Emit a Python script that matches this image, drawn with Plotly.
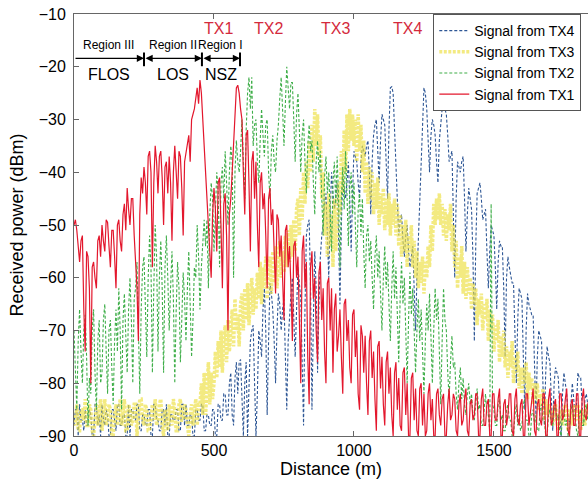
import numpy as np
import plotly.graph_objects as go

STEP = 5  # distance sampling step (m)

tx1 = [
    -50, -49, -51, -55, -57, -53, -52, -66, -74, -55,
    -56, -62, -80, -58, -57, -60, -62, -53, -52, -56,
    -50, -53, -55, -49, -49.5, -54, -58, -51, -51, -56,
    -62, -50, -49, -53, -55, -48, -46, -51, -43, -47,
    -50, -45, -45, -52, -56, -62, -72, -48, -41, -44,
    -39, -42, -48, -37, -36, -40, -58, -42, -35, -38,
    -44, -37, -36, -41, -50, -39, -38, -44, -37, -42,
    -53, -40, -35, -39, -45, -36, -37, -43, -52, -38,
    -36, -34, -33, -38, -30, -29, -28, -26, -24, -27,
    -22.5, -25, -30, -36, -42, -47, -50, -55, -60, -48,
    -43, -47, -55, -42, -41, -50, -62, -46, -44, -52,
    -70, -48, -45, -40, -35, -30, -24, -23.5, -25, -28,
    -30, -40, -48, -33, -32, -42, -55, -38, -36, -45,
    -38, -50, -58, -42, -40, -47, -44, -52, -62, -45,
    -43, -50, -47, -55, -63, -48, -49, -56, -52, -60,
    -68, -51, -50, -58, -54, -62, -72, -54, -53, -60,
    -56, -68, -80, -55, -52, -62, -57, -75, -84, -58,
    -55, -64, -60, -70, -76, -59, -57, -68, -62, -74,
    -80, -61, -60, -70, -62, -78, -66, -63, -74, -71,
    -66, -75, -82, -65, -64, -72, -68, -77, -80, -67,
    -66, -75, -70, -82, -85, -69, -71, -78, -71, -80,
    -86, -72, -70, -79, -74, -83, -89, -73, -72, -81,
    -75, -84, -88, -76, -74, -82, -77, -86, -90, -78,
    -76, -85, -79, -88, -89, -78, -77, -86, -80, -90,
    -90, -79, -78, -87, -81, -89, -90, -81, -80, -88,
    -82, -90, -89, -82, -80, -87, -83, -90, -90, -82,
    -81, -86, -88, -83, -82, -90, -90, -84, -81, -87,
    -86, -82, -83, -89, -90, -84, -82, -88, -87, -83,
    -81, -89, -90, -84, -83, -87, -86, -82, -82, -90,
    -90, -83, -81, -88, -88, -84, -83, -90, -90, -82,
    -82, -87, -87, -83, -81, -90, -90, -84, -83, -88,
    -86, -82, -82, -89, -90, -83, -81, -87, -88, -84,
    -83, -90, -90, -82, -82, -88, -86, -83, -81, -89,
    -90, -84, -83, -87, -88, -82, -82, -90, -90, -83,
    -81, -88, -87, -84, -83, -90, -90, -82, -82, -87,
    -86, -83, -81, -89, -90, -84, -83, -88, -88, -82,
    -82, -90, -90, -83, -81, -86, -87, -84, -83,
]

tx2 = [
    -70, -78, -85, -72, -66, -74, -80, -70, -67, -75,
    -88, -79, -82, -70, -66, -78, -85, -72, -68, -80,
    -78, -68, -65, -74, -82, -70, -68, -77, -84, -72,
    -66, -74, -62, -70, -85, -68, -63, -71, -78, -66,
    -60, -68, -80, -64, -62, -57, -70, -82, -66, -58,
    -56, -64, -75, -60, -52, -58, -78, -62, -50, -56,
    -74, -60, -53, -62, -78, -58, -52, -60, -70, -62,
    -55, -64, -80, -66, -57, -62, -76, -68, -59, -64,
    -72, -62, -55, -65, -75, -68, -58, -60, -50, -56,
    -66, -58, -52, -49, -54, -49, -62, -48, -42, -45,
    -55, -46, -40, -44, -58, -42, -39, -45, -36, -42,
    -50, -40, -35, -38, -60, -40, -34, -38, -40, -36,
    -30, -38, -45, -32, -25, -22, -28, -22, -35, -31,
    -30, -38, -42, -34, -28, -33, -37, -31, -30, -40,
    -45, -36, -33, -38, -40, -34, -31, -26, -22, -28,
    -35, -27, -20, -24, -28, -23, -23, -30, -38, -29,
    -25, -32, -40, -33, -30, -38, -44, -35, -31, -36,
    -34, -42, -48, -38, -34, -40, -36, -45, -52, -41,
    -37, -44, -40, -48, -55, -42, -38, -46, -37, -45,
    -58, -45, -39, -47, -36, -44, -54, -43, -40, -48,
    -42, -50, -58, -47, -44, -52, -45, -55, -62, -52,
    -50, -57, -53, -60, -66, -56, -52, -60, -55, -63,
    -70, -60, -54, -62, -57, -65, -72, -62, -55, -64,
    -58, -67, -76, -64, -57, -65, -60, -70, -80, -68,
    -59, -67, -62, -70, -78, -70, -64, -72, -66, -74,
    -82, -72, -65, -70, -63, -71, -80, -70, -62, -68,
    -64, -74, -84, -72, -62, -68, -70, -78, -83, -76,
    -71, -77, -76, -82, -85, -80, -77, -83, -79, -84,
    -86, -82, -80, -84, -82, -86, -87, -84, -81, -85,
    -84, -88, -88, -85, -82, -86, -86, -89, -46, -84,
    -85, -88, -88, -84, -83, -87, -86, -89, -89, -85,
    -84, -87, -87, -90, -90, -86, -84, -88, -86, -89,
    -88, -84, -83, -87, -87, -90, -90, -86, -85, -88,
    -86, -89, -89, -85, -84, -87, -87, -90, -90, -86,
    -85, -88, -88, -85, -84, -87, -86, -89, -90, -86,
    -85, -88, -87, -90, -89, -85, -84, -87, -86, -89,
    -90, -86, -85, -88, -88, -85, -84, -87, -87,
]

tx3 = [
    -86, -88, -84, -89, -89, -85, -85, -87, -83, -88,
    -88, -84, -85, -89, -90, -86, -84, -88, -86, -83,
    -89, -85, -83, -88, -87, -84, -85, -90, -90, -86,
    -84, -88, -86, -83, -88, -85, -83, -89, -89, -84,
    -85, -88, -87, -84, -84, -90, -86, -83, -83, -87,
    -88, -84, -85, -89, -89, -86, -84, -87, -83, -88,
    -87, -84, -83, -88, -90, -85, -86, -89, -84, -87,
    -88, -83, -85, -89, -89, -84, -83, -87, -87, -84,
    -85, -88, -90, -86, -84, -88, -86, -83, -88, -84,
    -84, -80, -86, -78, -86, -82, -76, -84, -78, -83,
    -80, -74, -79, -72, -77, -70, -78, -72, -69, -76,
    -68, -74, -70, -66, -73, -64, -70, -67, -73, -65,
    -63, -70, -62, -68, -61, -69, -64, -60, -67, -62,
    -66, -59, -64, -57, -65, -58, -62, -56, -64, -58,
    -56, -63, -55, -61, -54, -62, -57, -53, -60, -55,
    -59, -52, -58, -51, -57, -50, -56, -49, -55, -47,
    -45, -52, -43, -49, -40, -46, -38, -43, -34, -40,
    -31, -38, -28, -35, -29, -37, -33, -45, -40, -52,
    -46, -56, -44, -54, -48, -58, -45, -55, -50, -42,
    -48, -36, -44, -32, -40, -29, -36, -28, -34, -29,
    -35, -30, -38, -29, -36, -31, -40, -34, -44, -38,
    -46, -39, -45, -40, -48, -42, -47, -41, -50, -44,
    -48, -43, -51, -45, -50, -44, -52, -46, -50, -45,
    -52, -46, -54, -48, -56, -50, -55, -49, -58, -52,
    -55, -50, -58, -53, -60, -55, -62, -57, -61, -56,
    -63, -57, -60, -54, -58, -50, -55, -46, -50, -45,
    -49, -44, -50, -46, -52, -47, -53, -48, -51, -46,
    -55, -50, -58, -53, -62, -56, -60, -54, -63, -57,
    -64, -58, -63, -60, -66, -61, -65, -62, -69, -64,
    -67, -63, -70, -65, -68, -64, -72, -66, -70, -67,
    -74, -69, -72, -68, -76, -71, -75, -70, -77, -73,
    -79, -74, -77, -72, -80, -75, -78, -74, -81, -77,
    -82, -77, -80, -76, -83, -78, -81, -79, -84, -80,
    -83, -80, -85, -82, -84, -81, -87, -83, -86, -84,
    -85, -87, -88, -85, -84, -87, -89, -86, -85, -88,
    -86, -84, -87, -89, -85, -86, -88, -84, -85, -87,
    -84, -86, -89, -85, -87, -88, -84, -86, -86,
]

tx4 = [
    -88, -85, -85, -90, -84, -87, -87, -89, -85, -88,
    -88, -85, -86, -90, -90, -84, -84, -88, -86, -90,
    -84, -87, -88, -85, -86, -90, -90, -85, -85, -87,
    -89, -84, -84, -88, -88, -86, -86, -90, -90, -84,
    -90, -85, -85, -87, -87, -84, -84, -89, -89, -86,
    -86, -88, -88, -85, -85, -90, -90, -84, -84, -87,
    -87, -89, -89, -85, -85, -88, -84, -90, -90, -86,
    -86, -87, -87, -85, -85, -89, -89, -84, -84, -88,
    -84, -88, -88, -86, -86, -90, -90, -85, -85, -87,
    -87, -84, -84, -89, -89, -86, -86, -88, -88, -85,
    -85, -90, -90, -84, -84, -87, -87, -82, -82, -86,
    -86, -80, -78, -86, -88, -79, -76, -82, -76, -75.5,
    -84, -90, -80, -76, -90, -80, -72, -70, -69, -80,
    -90, -82, -70, -72, -75, -66, -62, -70, -86, -72,
    -61, -63, -66, -72, -80, -70, -63, -65, -70, -66,
    -64, -75, -85, -72, -67, -63, -60, -68, -75, -66,
    -58, -61, -64, -76, -88, -66, -52, -50, -49, -62,
    -85, -68, -55, -62, -78, -65, -56, -52, -50, -46,
    -44, -52, -60, -48, -40, -44, -47, -45, -42, -52,
    -65, -50, -41, -43, -45, -42, -38, -45, -55, -44,
    -36, -37, -38, -42, -45, -38, -35, -36, -37, -35,
    -34, -40, -48, -38, -33, -31, -30, -36, -42, -34,
    -29, -30, -31, -38, -45, -32, -24, -23.8, -25, -32,
    -40, -46, -52, -49, -48, -53, -56, -52, -50, -55,
    -58, -56, -54, -62, -70, -60, -52, -44, -36, -30,
    -24, -25, -28, -34, -40, -33, -30, -31, -33, -38,
    -42, -34, -31, -28, -27, -28, -29, -33, -38, -37,
    -36, -48, -60, -45, -38, -39, -40, -38, -37, -45,
    -55, -48, -43, -45, -47, -56, -72, -54, -44, -43,
    -42, -45, -49, -48, -47, -55, -62, -55, -50, -51,
    -52, -58, -66, -57, -53, -54, -54, -62, -75, -60,
    -56, -58, -60, -61, -61, -70, -80, -68, -62, -63,
    -64, -75, -85, -70, -63, -65, -66, -67, -67, -76,
    -86, -75, -70, -71, -72, -80, -88, -78, -73, -75,
    -76, -83, -89, -80, -77, -78, -79, -85, -90, -82,
    -78, -80, -82, -86, -88, -84, -80, -83, -86, -84,
    -78, -79, -79, -84, -88, -83, -82, -84, -85,
]

series_names = ["Signal from TX4", "Signal from TX3", "Signal from TX2", "Signal from TX1"]
series_values = [tx4, tx3, tx2, tx1]
series_colors = ["#2d5695", "rgba(238,224,70,0.68)", "#3fae49", "#e3172d"]
series_widths = [1.1, 3.5, 1.1, 1.2]
series_dash = ["3px,2px", "3px,1.5px", "3px,2px", "solid"]

tx_labels = ["TX1", "TX2", "TX3", "TX4"]
tx_label_pos = [516, 695, 935, 1192]

region_bounds = [0, 250, 457, 593]
region_titles = ["Region III", "Region II", "Region I"]
region_zones = ["FLOS", "LOS", "NSZ"]

x_ticks = [0, 500, 1000, 1500]
y_ticks = [-90, -80, -70, -60, -50, -40, -30, -20, -10]

FONT = "Liberation Sans, Arial, sans-serif"

for v in series_values:
    assert len(v) == 369, len(v)
distance = np.arange(len(tx1)) * STEP

fig = go.Figure()
for name, vals, col, w, d in zip(series_names, series_values, series_colors, series_widths, series_dash):
    fig.add_trace(go.Scatter(
        x=distance, y=vals, mode="lines", name=name,
        line=dict(color=col, width=w, dash=d),
    ))

for lab, pos in zip(tx_labels, tx_label_pos):
    fig.add_annotation(x=pos, y=-12.7, text=lab, showarrow=False,
                       font=dict(family=FONT, size=16, color="#d42a3c"))

arrow_y = -18.4
fig.add_annotation(x=region_bounds[1], y=arrow_y, ax=region_bounds[0], ay=arrow_y,
                   xref="x", yref="y", axref="x", ayref="y", text="", showarrow=True,
                   arrowhead=2, arrowsize=1.2, arrowwidth=1.2, arrowcolor="black", standoff=0)
for i in (1, 2):
    fig.add_annotation(x=region_bounds[i + 1], y=arrow_y, ax=region_bounds[i], ay=arrow_y,
                       xref="x", yref="y", axref="x", ayref="y", text="", showarrow=True,
                       arrowhead=2, startarrowhead=2, arrowside="end+start",
                       arrowsize=1.2, startarrowsize=1.2, arrowwidth=1.2,
                       arrowcolor="black", standoff=0, startstandoff=0)
for b in region_bounds[1:]:
    fig.add_shape(type="line", x0=b, x1=b, y0=-17.3, y1=-19.9, xref="x", yref="y",
                  line=dict(color="black", width=2))

for i in range(3):
    mid = (region_bounds[i] + region_bounds[i + 1]) / 2
    fig.add_annotation(x=mid, y=-15.9, text=region_titles[i], showarrow=False,
                       font=dict(family=FONT, size=12, color="black"))
    fig.add_annotation(x=mid, y=-21.4, text=region_zones[i], showarrow=False,
                       font=dict(family=FONT, size=16, color="black"))

fig.update_layout(
    width=588, height=482,
    margin=dict(l=74, r=0, t=14, b=46, autoexpand=False),
    paper_bgcolor="white", plot_bgcolor="white",
    font=dict(family=FONT, size=16, color="black"),
    showlegend=True,
    legend=dict(x=0.699, y=1.0, xanchor="left", yanchor="top",
                bgcolor="white", bordercolor="#555", borderwidth=1,
                font=dict(family=FONT, size=14, color="black"),
                itemwidth=30, tracegroupgap=0),
)
fig.update_xaxes(range=[0, 1836], tickvals=x_ticks, ticks="inside", ticklen=5,
                 tickcolor="#666", showline=True, linecolor="#666", linewidth=1,
                 mirror="ticks", showgrid=False, zeroline=False, automargin=False,
                 title=dict(text="Distance (m)", font=dict(size=18), standoff=2),
                 tickfont=dict(size=16))
fig.update_yaxes(range=[-90, -10], tickvals=y_ticks, ticks="inside", ticklen=5,
                 tickcolor="#666", showline=True, linecolor="#666", linewidth=1,
                 showgrid=False, zeroline=False, automargin=False,
                 ticklabelstandoff=4,
                 title=dict(text="Received power (dBm)", font=dict(size=18), standoff=10),
                 tickfont=dict(size=16))

fig.write_html("out.html")
